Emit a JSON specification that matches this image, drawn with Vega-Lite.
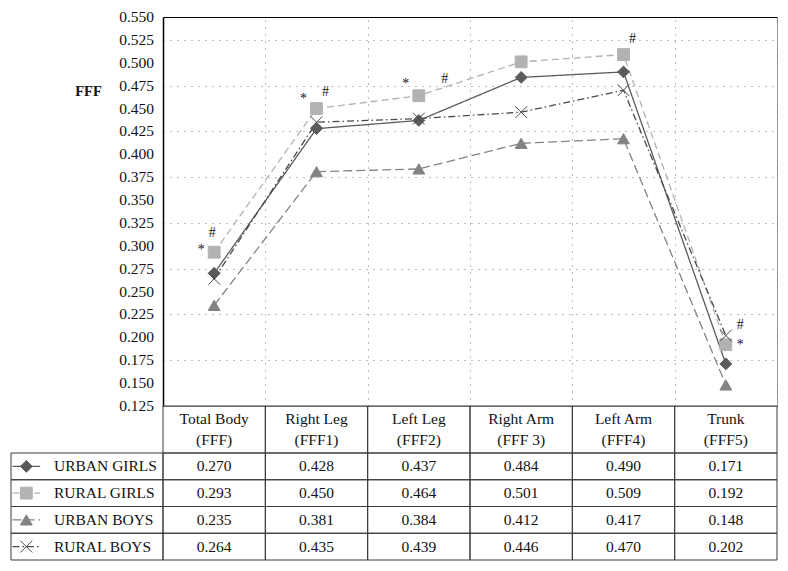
{
  "$schema": "https://vega.github.io/schema/vega-lite/v6.json",
  "width": 614,
  "height": 389,
  "autosize": {"type": "none"},
  "padding": {"left": 163, "top": 17, "right": 11, "bottom": 165},
  "background": "white",
  "config": {
    "view": {"stroke": "#9a9a9a", "strokeWidth": 1},
    "text": {"font": "Liberation Serif", "fontSize": 15.5, "color": "#111111"},
    "axis": {"labelFont": "Liberation Serif", "titleFont": "Liberation Serif"}
  },
  "datasets": {
    "fff": [
      {"group": "URBAN GIRLS", "cat": "Total Body\n(FFF)", "value": 0.270},
      {"group": "URBAN GIRLS", "cat": "Right Leg\n(FFF1)", "value": 0.428},
      {"group": "URBAN GIRLS", "cat": "Left Leg\n(FFF2)", "value": 0.437},
      {"group": "URBAN GIRLS", "cat": "Right Arm\n(FFF 3)", "value": 0.484},
      {"group": "URBAN GIRLS", "cat": "Left Arm\n(FFF4)", "value": 0.490},
      {"group": "URBAN GIRLS", "cat": "Trunk\n(FFF5)", "value": 0.171},
      {"group": "RURAL GIRLS", "cat": "Total Body\n(FFF)", "value": 0.293},
      {"group": "RURAL GIRLS", "cat": "Right Leg\n(FFF1)", "value": 0.450},
      {"group": "RURAL GIRLS", "cat": "Left Leg\n(FFF2)", "value": 0.464},
      {"group": "RURAL GIRLS", "cat": "Right Arm\n(FFF 3)", "value": 0.501},
      {"group": "RURAL GIRLS", "cat": "Left Arm\n(FFF4)", "value": 0.509},
      {"group": "RURAL GIRLS", "cat": "Trunk\n(FFF5)", "value": 0.192},
      {"group": "URBAN BOYS", "cat": "Total Body\n(FFF)", "value": 0.235},
      {"group": "URBAN BOYS", "cat": "Right Leg\n(FFF1)", "value": 0.381},
      {"group": "URBAN BOYS", "cat": "Left Leg\n(FFF2)", "value": 0.384},
      {"group": "URBAN BOYS", "cat": "Right Arm\n(FFF 3)", "value": 0.412},
      {"group": "URBAN BOYS", "cat": "Left Arm\n(FFF4)", "value": 0.417},
      {"group": "URBAN BOYS", "cat": "Trunk\n(FFF5)", "value": 0.148},
      {"group": "RURAL BOYS", "cat": "Total Body\n(FFF)", "value": 0.264},
      {"group": "RURAL BOYS", "cat": "Right Leg\n(FFF1)", "value": 0.435},
      {"group": "RURAL BOYS", "cat": "Left Leg\n(FFF2)", "value": 0.439},
      {"group": "RURAL BOYS", "cat": "Right Arm\n(FFF 3)", "value": 0.446},
      {"group": "RURAL BOYS", "cat": "Left Arm\n(FFF4)", "value": 0.470},
      {"group": "RURAL BOYS", "cat": "Trunk\n(FFF5)", "value": 0.202}
    ],
    "cats": [
      {"cat": "Total Body\n(FFF)"},
      {"cat": "Right Leg\n(FFF1)"},
      {"cat": "Left Leg\n(FFF2)"},
      {"cat": "Right Arm\n(FFF 3)"},
      {"cat": "Left Arm\n(FFF4)"},
      {"cat": "Trunk\n(FFF5)"}
    ],
    "groups": [
      {"group": "URBAN GIRLS"},
      {"group": "RURAL GIRLS"},
      {"group": "URBAN BOYS"},
      {"group": "RURAL BOYS"}
    ],
    "yticks": [
      {"value": 0.125}, {"value": 0.15}, {"value": 0.175}, {"value": 0.2}, {"value": 0.225}, {"value": 0.25},
      {"value": 0.275}, {"value": 0.3}, {"value": 0.325}, {"value": 0.35}, {"value": 0.375}, {"value": 0.4},
      {"value": 0.425}, {"value": 0.45}, {"value": 0.475}, {"value": 0.5}, {"value": 0.525}, {"value": 0.55}
    ],
    "notes": [
      {"cat": "Total Body\n(FFF)", "mark": "#", "value": 0.314, "place": "above"},
      {"cat": "Total Body\n(FFF)", "mark": "*", "value": 0.295, "place": "left"},
      {"cat": "Right Leg\n(FFF1)", "mark": "*", "value": 0.460, "place": "left"},
      {"cat": "Right Leg\n(FFF1)", "mark": "#", "value": 0.468, "place": "right"},
      {"cat": "Left Leg\n(FFF2)", "mark": "*", "value": 0.477, "place": "left"},
      {"cat": "Left Leg\n(FFF2)", "mark": "#", "value": 0.482, "place": "far"},
      {"cat": "Left Arm\n(FFF4)", "mark": "#", "value": 0.526, "place": "right"},
      {"cat": "Trunk\n(FFF5)", "mark": "#", "value": 0.214, "place": "trunk"},
      {"cat": "Trunk\n(FFF5)", "mark": "*", "value": 0.192, "place": "trunk"}
    ]
  },
  "layer": [
    {
      "layer": [
        {
          "data": {"name": "fff"},
          "mark": {"type": "line", "strokeWidth": 1.3},
          "encoding": {
            "x": {"field": "cat", "type": "nominal",
              "scale": {"type": "band", "domain": ["Total Body\n(FFF)", "Right Leg\n(FFF1)", "Left Leg\n(FFF2)", "Right Arm\n(FFF 3)", "Left Arm\n(FFF4)", "Trunk\n(FFF5)"], "paddingInner": 0, "paddingOuter": 0},
              "axis": {"orient": "top", "title": null, "labels": false, "ticks": false, "domain": true, "domainColor": "#000000", "domainWidth": 1.2, "grid": true, "tickBand": "extent", "gridDash": [1, 6], "gridColor": "#7a7a7a", "gridWidth": 1}},
            "y": {"field": "value", "type": "quantitative",
              "scale": {"type": "linear", "domain": [0.125, 0.55], "nice": false, "zero": false},
              "axis": {"orient": "left", "title": "FFF", "values": [0.125, 0.15, 0.175, 0.2, 0.225, 0.25, 0.275, 0.3, 0.325, 0.35, 0.375, 0.4, 0.425, 0.45, 0.475, 0.5, 0.525, 0.55], "labels": false, "ticks": false, "domain": true, "domainColor": "#000000", "domainWidth": 1.5, "grid": true, "gridDash": [1, 6], "gridColor": "#7a7a7a", "gridWidth": 1, "titleAngle": 0, "titleFontSize": 14.5, "titleFontWeight": "bold", "titleColor": "#111111", "titleX": -75, "titleY": 74, "titleAlign": "center", "titleBaseline": "middle"}},
            "stroke": {"field": "group", "type": "nominal", "legend": null,
              "scale": {"domain": ["URBAN GIRLS", "RURAL GIRLS", "URBAN BOYS", "RURAL BOYS"], "range": ["#5b5b5b", "#b2b2b2", "#838383", "#4a4a4a"]}},
            "strokeDash": {"field": "group", "type": "nominal", "legend": null,
              "scale": {"domain": ["URBAN GIRLS", "RURAL GIRLS", "URBAN BOYS", "RURAL BOYS"], "range": [[1, 0], [7, 4], [9, 4], [7, 3, 1.5, 3]]}}
          }
        },
        {
          "data": {"name": "fff"},
          "mark": {"type": "point", "filled": true, "size": 140, "strokeWidth": 1, "opacity": 1},
          "encoding": {
            "x": {"field": "cat", "type": "nominal", "title": null},
            "y": {"field": "value", "type": "quantitative", "title": "FFF"},
            "shape": {"field": "group", "type": "nominal", "legend": null,
              "scale": {"domain": ["URBAN GIRLS", "RURAL GIRLS", "URBAN BOYS", "RURAL BOYS"], "range": ["diamond", "square", "triangle-up", "M-1,-1L1,1M-1,1L1,-1"]}},
            "fill": {"field": "group", "type": "nominal", "legend": null,
              "scale": {"domain": ["URBAN GIRLS", "RURAL GIRLS", "URBAN BOYS", "RURAL BOYS"], "range": ["#5b5b5b", "#b2b2b2", "#838383", "#4a4a4a"]}},
            "stroke": {"field": "group", "type": "nominal", "legend": null}
          }
        },
        {
          "data": {"name": "yticks"},
          "mark": {"type": "text", "align": "right", "baseline": "middle", "dx": -9, "color": "#111111"},
          "encoding": {
            "x": {"datum": "Total Body\n(FFF)", "type": "nominal", "bandPosition": 0, "title": null},
            "y": {"field": "value", "type": "quantitative", "title": "FFF"},
            "text": {"field": "value", "type": "quantitative", "format": ".3f"}
          }
        },
        {
          "data": {"name": "notes"},
          "transform": [{"filter": "datum.place === 'left'"}],
          "mark": {"type": "text", "dx": -13, "baseline": "middle", "fontSize": 14, "color": "#111111"},
          "encoding": {
            "x": {"field": "cat", "type": "nominal", "title": null},
            "y": {"field": "value", "type": "quantitative", "title": "FFF"},
            "text": {"field": "mark"}
          }
        },
        {
          "data": {"name": "notes"},
          "transform": [{"filter": "datum.place === 'above'"}],
          "mark": {"type": "text", "dx": -2, "baseline": "middle", "fontSize": 14, "color": "#111111"},
          "encoding": {
            "x": {"field": "cat", "type": "nominal", "title": null},
            "y": {"field": "value", "type": "quantitative", "title": "FFF"},
            "text": {"field": "mark"}
          }
        },
        {
          "data": {"name": "notes"},
          "transform": [{"filter": "datum.place === 'right'"}],
          "mark": {"type": "text", "dx": 9, "baseline": "middle", "fontSize": 14, "color": "#111111"},
          "encoding": {
            "x": {"field": "cat", "type": "nominal", "title": null},
            "y": {"field": "value", "type": "quantitative", "title": "FFF"},
            "text": {"field": "mark"}
          }
        },
        {
          "data": {"name": "notes"},
          "transform": [{"filter": "datum.place === 'trunk'"}],
          "mark": {"type": "text", "dx": 14.5, "baseline": "middle", "fontSize": 14, "color": "#111111"},
          "encoding": {
            "x": {"field": "cat", "type": "nominal", "title": null},
            "y": {"field": "value", "type": "quantitative", "title": "FFF"},
            "text": {"field": "mark"}
          }
        },
        {
          "data": {"name": "notes"},
          "transform": [{"filter": "datum.place === 'far'"}],
          "mark": {"type": "text", "dx": 26, "baseline": "middle", "fontSize": 14, "color": "#111111"},
          "encoding": {
            "x": {"field": "cat", "type": "nominal", "title": null},
            "y": {"field": "value", "type": "quantitative", "title": "FFF"},
            "text": {"field": "mark"}
          }
        }
      ]
    },
    {
      "data": {"name": "cats"},
      "layer": [
        {
          "mark": {"type": "rect", "fill": "transparent", "stroke": "#3a3a3a", "strokeWidth": 1},
          "encoding": {
            "x": {"field": "cat", "type": "nominal", "axis": null,
              "scale": {"type": "band", "domain": ["Total Body\n(FFF)", "Right Leg\n(FFF1)", "Left Leg\n(FFF2)", "Right Arm\n(FFF 3)", "Left Arm\n(FFF4)", "Trunk\n(FFF5)"], "paddingInner": 0, "paddingOuter": 0}},
            "y": {"datum": "h", "type": "nominal", "axis": null,
              "scale": {"type": "band", "domain": ["h"], "range": [389, 436], "paddingInner": 0, "paddingOuter": 0}}
          }
        },
        {
          "mark": {"type": "text", "lineBreak": "\n", "lineHeight": 20.5, "baseline": "middle", "dy": -10.25, "color": "#111111"},
          "encoding": {
            "x": {"field": "cat", "type": "nominal", "axis": null},
            "y": {"datum": "h", "type": "nominal", "axis": null},
            "text": {"field": "cat"}
          }
        }
      ]
    },
    {
      "data": {"name": "fff"},
      "layer": [
        {
          "mark": {"type": "rect", "fill": "transparent", "stroke": "#3a3a3a", "strokeWidth": 1},
          "encoding": {
            "x": {"field": "cat", "type": "nominal", "axis": null,
              "scale": {"type": "band", "domain": ["Total Body\n(FFF)", "Right Leg\n(FFF1)", "Left Leg\n(FFF2)", "Right Arm\n(FFF 3)", "Left Arm\n(FFF4)", "Trunk\n(FFF5)"], "paddingInner": 0, "paddingOuter": 0}},
            "y": {"field": "group", "type": "nominal", "axis": null,
              "scale": {"type": "band", "domain": ["URBAN GIRLS", "RURAL GIRLS", "URBAN BOYS", "RURAL BOYS"], "range": [436, 543], "paddingInner": 0, "paddingOuter": 0}}
          }
        },
        {
          "mark": {"type": "text", "baseline": "middle", "color": "#111111"},
          "encoding": {
            "x": {"field": "cat", "type": "nominal", "axis": null},
            "y": {"field": "group", "type": "nominal", "axis": null},
            "text": {"field": "value", "type": "quantitative", "format": ".3f"}
          }
        }
      ]
    },
    {
      "data": {"name": "groups"},
      "mark": {"type": "rect", "fill": "transparent", "stroke": "#3a3a3a", "strokeWidth": 1},
      "encoding": {
        "x": {"datum": "legend", "type": "nominal", "axis": null,
          "scale": {"type": "band", "domain": ["legend"], "range": [-152, 0], "paddingInner": 0, "paddingOuter": 0}},
        "y": {"field": "group", "type": "nominal", "axis": null,
          "scale": {"type": "band", "domain": ["URBAN GIRLS", "RURAL GIRLS", "URBAN BOYS", "RURAL BOYS"], "range": [436, 543], "paddingInner": 0, "paddingOuter": 0}}
      }
    },
    {
      "data": {"name": "groups"},
      "layer": [
        {
          "mark": {"type": "rule", "strokeWidth": 1.3},
          "encoding": {
            "x": {"datum": "a", "type": "nominal", "axis": null,
              "scale": {"type": "point", "domain": ["a", "m", "b", "t"], "range": [-150.5, -109], "padding": 0}},
            "x2": {"datum": "b"},
            "y": {"field": "group", "type": "nominal", "axis": null,
              "scale": {"type": "band", "domain": ["URBAN GIRLS", "RURAL GIRLS", "URBAN BOYS", "RURAL BOYS"], "range": [436, 543], "paddingInner": 0, "paddingOuter": 0}},
            "stroke": {"field": "group", "type": "nominal", "legend": null},
            "strokeDash": {"field": "group", "type": "nominal", "legend": null}
          }
        },
        {
          "mark": {"type": "point", "filled": true, "size": 140, "strokeWidth": 1, "opacity": 1},
          "encoding": {
            "x": {"datum": "m", "type": "nominal", "axis": null},
            "y": {"field": "group", "type": "nominal", "axis": null},
            "shape": {"field": "group", "type": "nominal", "legend": null},
            "fill": {"field": "group", "type": "nominal", "legend": null},
            "stroke": {"field": "group", "type": "nominal", "legend": null}
          }
        },
        {
          "mark": {"type": "text", "align": "left", "baseline": "middle", "color": "#111111"},
          "encoding": {
            "x": {"datum": "t", "type": "nominal", "axis": null},
            "y": {"field": "group", "type": "nominal", "axis": null},
            "text": {"field": "group"}
          }
        }
      ]
    }
  ],
  "resolve": {"scale": {"x": "independent", "y": "independent"}}
}
